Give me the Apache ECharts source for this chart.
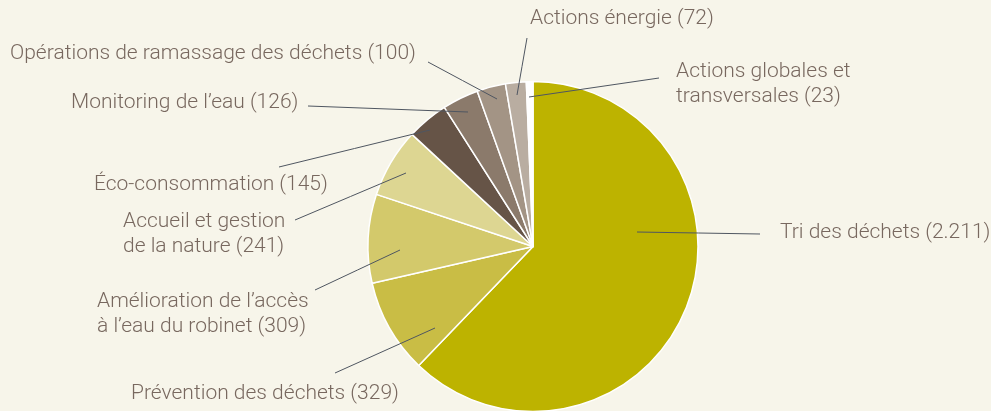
<!DOCTYPE html>
<html>
<head>
<meta charset="utf-8">
<script src="https://cdn.jsdelivr.net/npm/echarts@6/dist/echarts.min.js"></script>
<style>
    html, body { margin: 0; padding: 0; background: #f7f5ea; }
    #chart { width: 991px; height: 411px; }
</style>
</head>
<body>
<div id="chart"></div>
<script>
var categories = [
    'Tri des déchets',
    'Prévention des déchets',
    'Amélioration de l’accès\nà l’eau du robinet',
    'Accueil et gestion\nde la nature',
    'Éco-consommation',
    'Monitoring de l’eau',
    'Opérations de ramassage des déchets',
    'Actions énergie',
    'Actions globales et\ntransversales'
];
var values = [2211, 329, 309, 241, 145, 126, 100, 72, 23];
var colors = ['#bdb300', '#c9bd45', '#d3c96b', '#ddd692', '#665447', '#8b7a6b', '#a39485', '#b9ada1', '#ffffff'];

// label position (left edge, vertical middle) and leader line: [start in slice, end near label]
var labelPos = [
    { x: 780, y: 233, line: [[637, 232], [760, 234]] },
    { x: 131, y: 394, line: [[435, 328], [335, 373]] },
    { x: 97, y: 314.5, line: [[400, 250], [315, 290]] },
    { x: 123, y: 234.5, line: [[406, 173], [295, 220]] },
    { x: 94, y: 185, line: [[430, 130], [279, 167]] },
    { x: 71, y: 103, line: [[468, 112], [308, 106]] },
    { x: 10, y: 54, line: [[497, 99], [428, 62]] },
    { x: 530, y: 19, line: [[517, 95], [527, 38]] },
    { x: 676, y: 84, line: [[529, 97], [659, 78]] }
];

function fmtNum(v) {
    return String(v).replace(/\B(?=(\d{3})+(?!\d))/g, '.');
}

var sliceData = [];
var labelData = [];
for (var i = 0; i < values.length; i++) {
    sliceData.push({
        name: categories[i],
        value: values[i],
        itemStyle: { color: colors[i] }
    });
    labelData.push({ name: categories[i], value: values[i] });
}

var pieCenter = [533, 246.5];
var pieRadius = 165;

var myChart = echarts.init(document.getElementById('chart'));
myChart.setOption({
    backgroundColor: '#f7f5ea',
    animation: false,
    series: [{
        // coloured slices
        type: 'pie',
        center: pieCenter,
        radius: pieRadius,
        startAngle: 90,
        clockwise: true,
        data: sliceData,
        itemStyle: { borderColor: '#ffffff', borderWidth: 1.5 },
        label: { show: false },
        labelLine: { show: false },
        emphasis: { disabled: true }
    }, {
        // transparent copy on top, carries labels and leader lines
        type: 'pie',
        center: pieCenter,
        radius: pieRadius,
        startAngle: 90,
        clockwise: true,
        z: 5,
        silent: true,
        data: labelData,
        itemStyle: { color: 'rgba(0,0,0,0)', borderWidth: 0 },
        label: {
            show: true,
            color: '#78685f',
            fontFamily: 'Roboto',
            fontWeight: 300,
            fontSize: 21,
            lineHeight: 25,
            overflow: 'none',
            formatter: function(p) {
                return p.name + ' (' + fmtNum(p.value) + ')';
            }
        },
        labelLine: {
            show: true,
            smooth: false,
            lineStyle: { color: '#4f5661', width: 1 }
        },
        labelLayout: function(params) {
            var p = labelPos[params.dataIndex];
            var a = p.line[0], b = p.line[1];
            return {
                x: p.x,
                y: p.y,
                align: 'left',
                verticalAlign: 'middle',
                labelLinePoints: [a, [(a[0] + b[0]) / 2, (a[1] + b[1]) / 2], b]
            };
        },
        emphasis: { disabled: true }
    }]
});
</script>
</body>
</html>
